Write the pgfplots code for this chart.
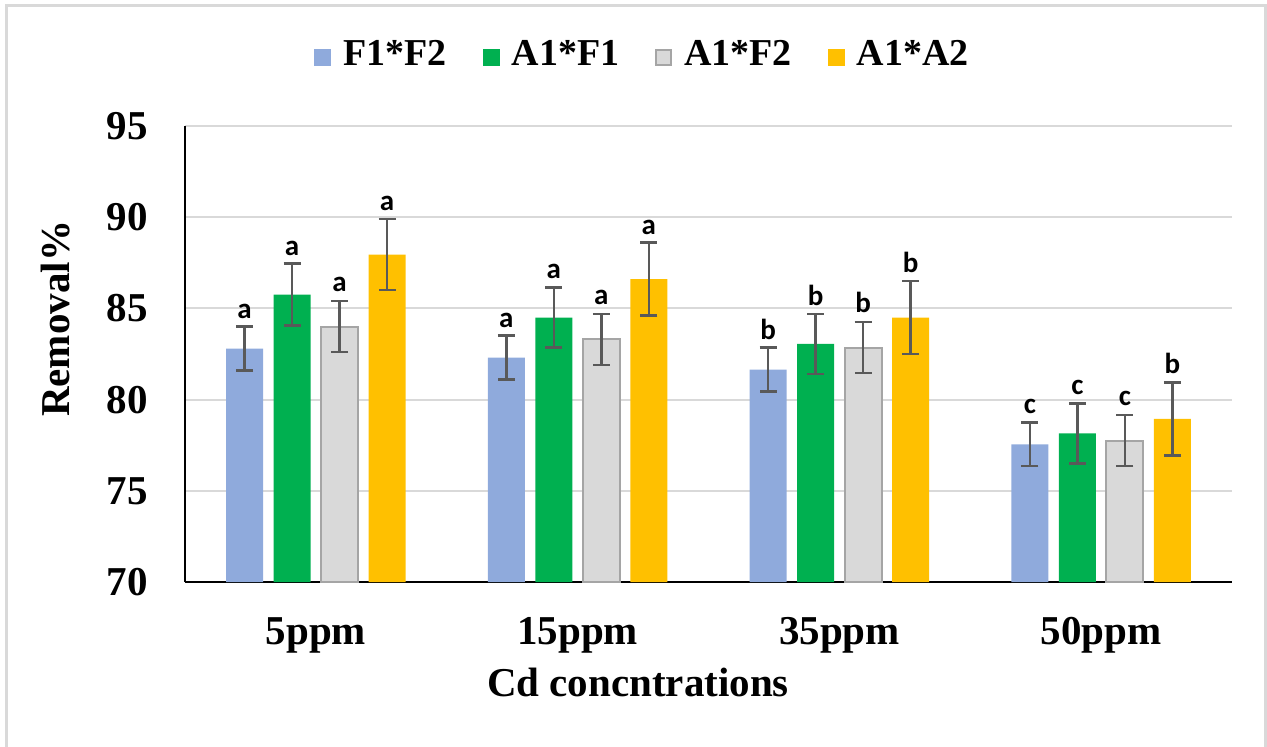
\documentclass[border=0pt]{standalone}
\usepackage{pgfplots}
\pgfplotsset{compat=1.18}
\usepackage{pgfplotstable}
\usepackage{fontspec}
\setmainfont{Liberation Serif}
\newfontfamily\carlito{Carlito}
\definecolor{cblue}{HTML}{8FAADC}
\definecolor{cgreen}{HTML}{00B050}
\definecolor{cgray}{HTML}{D9D9D9}
\definecolor{cgrayedge}{HTML}{A5A5A5}
\definecolor{cyellow}{HTML}{FFC000}
\definecolor{errgray}{HTML}{595959}
\definecolor{gridgray}{HTML}{D9D9D9}
\definecolor{framegray}{HTML}{D9D9D9}

\pgfplotstableread{
x y err lab
0 82.8 1.2 a
1 82.3 1.2 a
2 81.65 1.2 b
3 77.55 1.2 c
}\tabA
\pgfplotstableread{
x y err lab
0 85.75 1.7 a
1 84.5 1.65 a
2 83.05 1.65 b
3 78.15 1.65 c
}\tabB
\pgfplotstableread{
x y err lab
0 84.0 1.4 a
1 83.3 1.4 a
2 82.85 1.4 b
3 77.75 1.4 c
}\tabC
\pgfplotstableread{
x y err lab
0 87.95 1.95 a
1 86.6 2.0 a
2 84.5 2.0 b
3 78.95 2.0 b
}\tabD

\pgfplotsset{
  myerr/.style={
    error bars/y dir=both, error bars/y explicit,
    error bars/error bar style={line width=1.3pt, errgray},
    error bars/error mark options={rotate=90, mark size=4.25pt, line width=1.3pt, errgray},
    nodes near coords, point meta=explicit symbolic,
    visualization depends on={\thisrow{err}\as\myerr},
    every node near coord/.append style={font=\carlito\bfseries\fontsize{14.5}{17}\selectfont, text=black, inner sep=1pt, anchor=south, yshift=\myerr*9.12pt+3pt},
  },
  mylegend/.style 2 args={legend image code/.code={\filldraw[fill=#1, draw=#2, line width=0.9pt] (0.45pt,-5.5pt) rectangle (8pt,2pt);}},
}

\begin{document}
\begin{tikzpicture}
\path[use as bounding box] (0,0) rectangle (633.5pt,373pt);
\draw[framegray, line width=1.5pt] (3pt,-5pt) -- (3pt,370pt) -- (632.8pt,370pt) -- (632.8pt,-5pt);
\begin{axis}[
  at={(92.5pt,82pt)}, anchor=south west,
  width=523.5pt, height=228pt, scale only axis,
  ymin=70, ymax=95, ytick={70,75,80,85,90,95},
  xmin=-0.5, xmax=3.5, xtick={0,1,2,3},
  xticklabels={5ppm,15ppm,35ppm,50ppm},
  axis x line*=bottom, axis y line*=left,
  axis line style={line width=1pt, black},
  ymajorgrids, grid style={line width=1pt, gridgray},
  major tick length=0pt,
  ybar=5.25pt, bar width=18.5pt,
  tick label style={font=\fontsize{20.5}{24}\selectfont\bfseries},
  yticklabel style={/pgf/number format/assume math mode=true, inner sep=0pt, xshift=-18.5pt},
  xticklabel style={inner sep=0pt, yshift=-17.5pt},
  xlabel={Cd concntrations},
  ylabel={Removal\%},
  label style={font=\fontsize{20.5}{24}\selectfont\bfseries},
  xlabel style={at={(axis description cs:0.4327,-0.1886)}, anchor=north, inner sep=0pt},
  ylabel style={at={(axis description cs:-0.1098,0.577)}, anchor=south, inner sep=0pt},
  legend columns=4,
  legend style={at={(axis description cs:0.438,1.158)}, anchor=center, draw=none, fill=none,
    font=\fontsize{19}{23}\selectfont\bfseries,
    /tikz/every odd column/.append style={column sep=4pt},
    /tikz/every even column/.append style={column sep=16pt}},
]
\addplot[fill=cblue, draw=none, mylegend={cblue}{cblue}, myerr] table[x=x, y=y, y error=err, meta=lab] {\tabA};
\addplot[fill=cgreen, draw=none, mylegend={cgreen}{cgreen}, myerr] table[x=x, y=y, y error=err, meta=lab] {\tabB};
\addplot[fill=cgray, draw=cgrayedge, line width=1pt, mylegend={cgray}{cgrayedge}, myerr] table[x=x, y=y, y error=err, meta=lab] {\tabC};
\addplot[fill=cyellow, draw=none, mylegend={cyellow}{cyellow}, myerr] table[x=x, y=y, y error=err, meta=lab] {\tabD};
\legend{F1*F2, A1*F1, A1*F2, A1*A2}
\end{axis}
\end{tikzpicture}
\end{document}
